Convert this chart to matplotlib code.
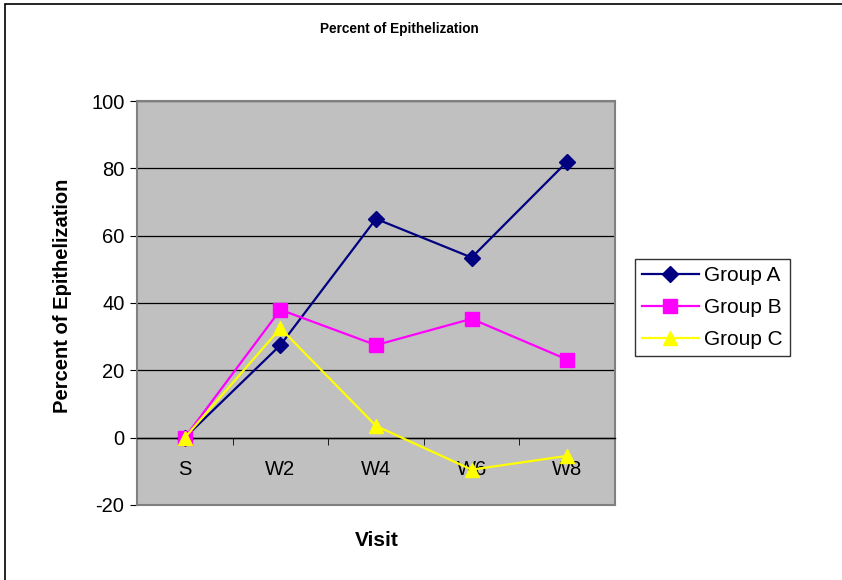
import matplotlib.pyplot as plt
from matplotlib.patches import Rectangle

plt.rcParams['font.family'] = ['Liberation Sans', 'DejaVu Sans']
plt.rcParams['axes.unicode_minus'] = False

visits = ['S', 'W2', 'W4', 'W6', 'W8']
group_a = [0, 27.5, 65, 53.5, 82]
group_b = [0, 38, 27.5, 35.3, 23.2]
group_c = [0, 32.5, 3.5, -9.5, -5.4]

fig = plt.figure(figsize=(8.42, 5.8), dpi=100)
# outer chart frame (only left and top edges visible in the original)
fig.patches.append(Rectangle((5 / 842, -0.1), 1.2, 1.1 - 4 / 580, transform=fig.transFigure,
                             fill=False, edgecolor='black', linewidth=1.2))

ax = fig.add_axes([137 / 842, 1 - 505 / 580, 478 / 842, 404 / 580])
ax.set_facecolor('#C0C0C0')

x = range(len(visits))
ax.plot(x, group_a, '-D', color='#000080', linewidth=1.6, markersize=8, label='Group A', zorder=3)
ax.plot(x, group_b, '-s', color='#FF00FF', linewidth=1.6, markersize=10, label='Group B', zorder=4)
ax.plot(x, group_c, '-^', color='#FFFF00', linewidth=1.6, markersize=10, label='Group C', zorder=5)

ax.set_xlim(-0.5, 4.5)
ax.set_ylim(-20, 100)
ax.set_yticks([-20, 0, 20, 40, 60, 80, 100])
ax.yaxis.grid(True, color='black', linewidth=0.9)
ax.set_axisbelow(True)

for s in ['top', 'right', 'left']:
    ax.spines[s].set_color('#808080')
    ax.spines[s].set_linewidth(1.5)
ax.axhline(ax.get_ylim()[0], color='#808080', linewidth=1.5, clip_on=False)
ax.spines['bottom'].set_position(('data', 0))
ax.spines['bottom'].set_color('black')
ax.spines['bottom'].set_linewidth(1)

ax.set_xticks(list(x))
ax.set_xticklabels(visits, fontsize=14.5)
ax.set_xticks([0.5, 1.5, 2.5, 3.5], minor=True)
ax.tick_params(axis='x', which='major', length=0, pad=16)
ax.tick_params(axis='x', which='minor', length=5, direction='out', color='black')
ax.tick_params(axis='y', length=5, direction='out', color='black', labelsize=14.5, pad=4)

fig.text(63 / 842, 1 - 296 / 580, 'Percent of Epithelization', fontsize=14.5, fontweight='bold',
         rotation=90, ha='center', va='center')
fig.text(377 / 842, 1 - 541 / 580, 'Visit', fontsize=15, fontweight='bold', ha='center', va='center')
fig.text(399 / 842, 1 - 29 / 580, 'Percent of Epithelization', fontsize=9.8, fontweight='bold',
         ha='center', va='center')

leg = fig.legend(loc='upper left', bbox_to_anchor=(635 / 842, 1 - 259 / 580), fontsize=15,
                 frameon=True, fancybox=False, edgecolor='black', handlelength=2.7,
                 borderpad=0.35, labelspacing=0.62, handletextpad=0.25, borderaxespad=0)
leg.get_frame().set_linewidth(1)

plt.savefig('out.png', dpi=100)
